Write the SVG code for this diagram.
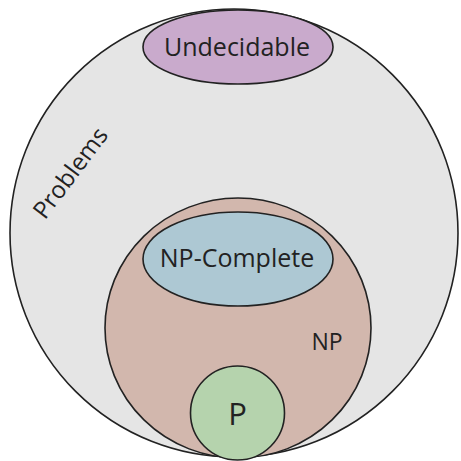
<svg xmlns="http://www.w3.org/2000/svg" width="461" height="461" viewBox="0 0 461 461">
<style>
.s{stroke:#222;stroke-width:1.6}
text{font-family:"Open Sans","DejaVu Sans",sans-serif;fill:#222;text-anchor:middle}
</style>
<rect width="461" height="461" fill="#fff"/>
<g id="problems">
<circle class="s" cx="234" cy="233" r="224" fill="#e5e5e5"/>
<text font-size="24" transform="translate(77,178) rotate(-53)">Problems</text>
</g>
<g id="undecidable">
<ellipse class="s" cx="238" cy="47" rx="95" ry="37" fill="#c9aacc"/>
<text font-size="25" x="237" y="56">Undecidable</text>
</g>
<g id="np">
<ellipse class="s" cx="238" cy="328" rx="133" ry="130" fill="#d2b7ad"/>
<text font-size="23" x="327" y="350">NP</text>
</g>
<g id="npc">
<ellipse class="s" cx="238" cy="259" rx="95" ry="47" fill="#adc8d3"/>
<text font-size="25" x="237" y="267">NP-Complete</text>
</g>
<g id="p">
<circle class="s" cx="237.5" cy="413" r="47" fill="#b5d3ad"/>
<text font-size="31" x="237.5" y="425">P</text>
</g>
<g id="connectors"/>
</svg>
